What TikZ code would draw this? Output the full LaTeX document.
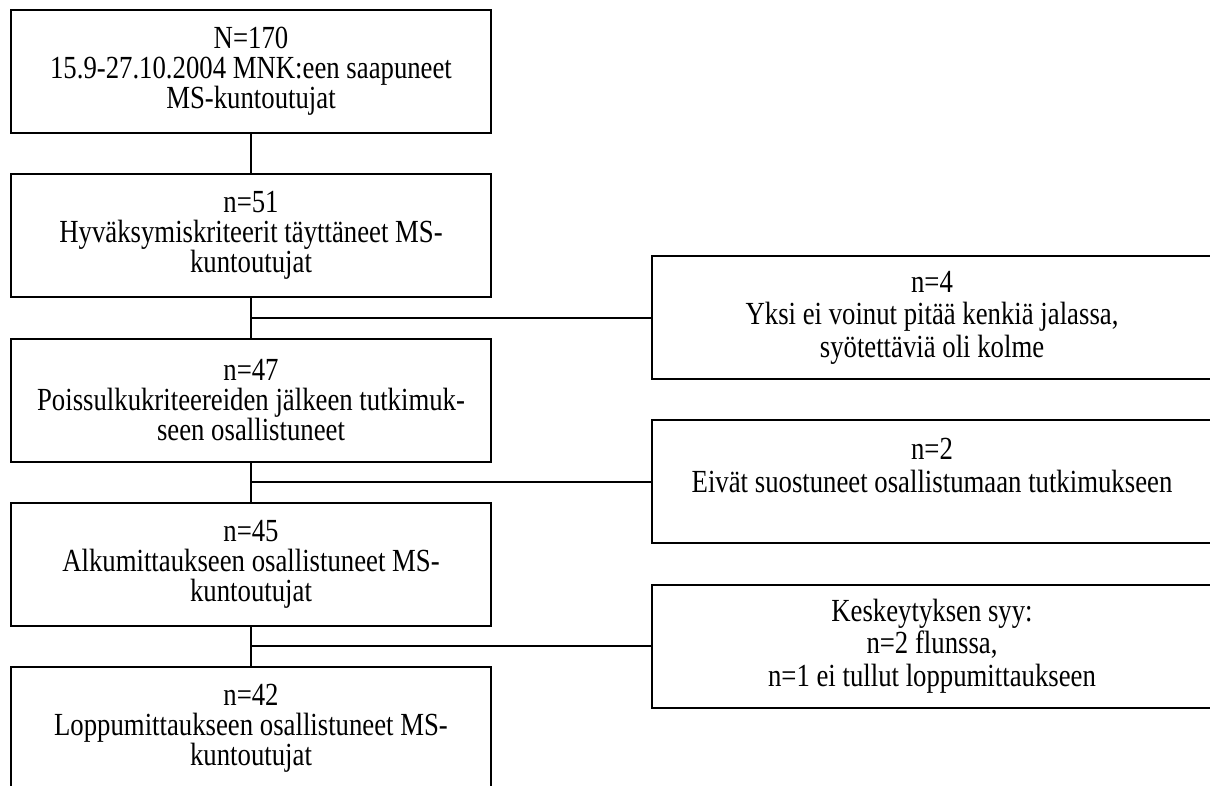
\documentclass[tikz,border=0pt]{standalone}
\usepackage{fontspec}
\setmainfont{Liberation Serif}
\newfontfamily\tallserif[FakeStretch=0.83]{Liberation Serif}
\usepackage{tikz}

\tikzset{
  box/.style={draw, line width=0.9pt, minimum width=216pt, minimum height=55.35pt,
    align=center, inner sep=0pt, font=\tallserif\fontsize{14.5}{13.5}\selectfont},
  sidebox/.style={draw, line width=0.9pt, minimum width=252pt, minimum height=55.35pt,
    anchor=west, align=center, inner sep=0pt, font=\tallserif\fontsize{14.5}{14.6}\selectfont},
  link/.style={line width=0.9pt}
}

\begin{document}
\begin{tikzpicture}[x=0.45pt, y=-0.45pt]
\useasboundingbox (0,0) rectangle (1210,785);
\clip (0,0) rectangle (1210,785);
\node[box] (b1) at (251,71.5) {N=170\\15.9-27.10.2004 MNK:een saapuneet\\MS-kuntoutujat};
\node[box] (b2) at (251,235.5) {n=51\\Hyväksymiskriteerit täyttäneet MS-\\kuntoutujat};
\node[box] (b3) at (251,400.5) {n=47\\Poissulkukriteereiden jälkeen tutkimuk-\\seen osallistuneet};
\node[box] (b4) at (251,564.5) {n=45\\Alkumittaukseen osallistuneet MS-\\kuntoutujat};
\node[box] (b5) at (251,728.5) {n=42\\Loppumittaukseen osallistuneet MS-\\kuntoutujat};
\node[sidebox] (r1) at (651,317.5) {n=4\\Yksi ei voinut pitää kenkiä jalassa,\\syötettäviä oli kolme};
\node[sidebox] (r2) at (651,481.5) {n=2\\Eivät suostuneet osallistumaan tutkimukseen\\ \mbox{}};
\node[sidebox] (r3) at (651,646) {Keskeytyksen syy:\\n=2 flunssa,\\n=1 ei tullut loppumittaukseen};
\draw[link] (b1.south) -- (b2.north);
\draw[link] (b2.south) -- (b3.north);
\draw[link] (b3.south) -- (b4.north);
\draw[link] (b4.south) -- (b5.north);
\draw[link] (b2.south |- r1.west) -- (r1.west);
\draw[link] (b3.south |- r2.west) -- (r2.west);
\draw[link] (b4.south |- r3.west) -- (r3.west);
\end{tikzpicture}
\end{document}
